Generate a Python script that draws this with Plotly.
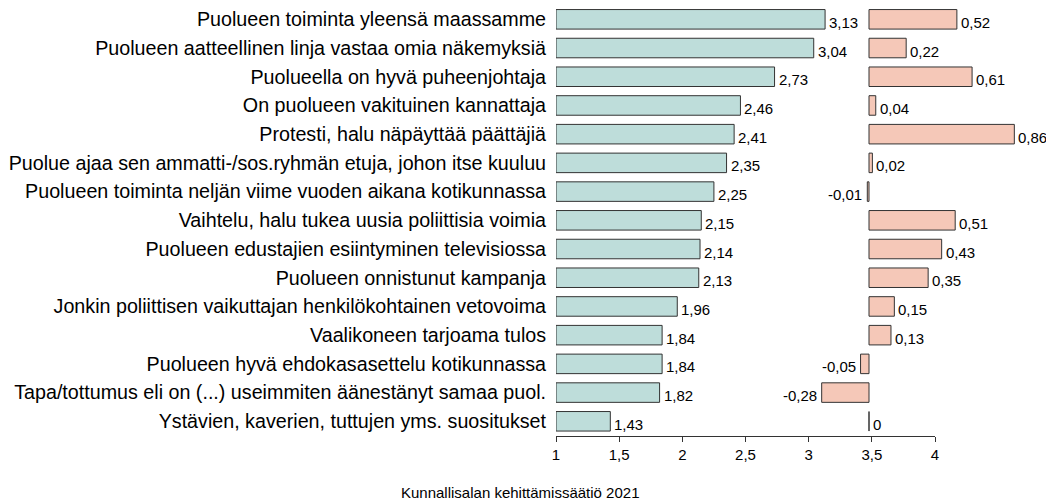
import plotly.graph_objects as go

categories = [
    "Puolueen toiminta yleensä maassamme",
    "Puolueen aatteellinen linja vastaa omia näkemyksiä",
    "Puolueella on hyvä puheenjohtaja",
    "On puolueen vakituinen kannattaja",
    "Protesti, halu näpäyttää päättäjiä",
    "Puolue ajaa sen ammatti-/sos.ryhmän etuja, johon itse kuuluu",
    "Puolueen toiminta neljän viime vuoden aikana kotikunnassa",
    "Vaihtelu, halu tukea uusia poliittisia voimia",
    "Puolueen edustajien esiintyminen televisiossa",
    "Puolueen onnistunut kampanja",
    "Jonkin poliittisen vaikuttajan henkilökohtainen vetovoima",
    "Vaalikoneen tarjoama tulos",
    "Puolueen hyvä ehdokasasettelu kotikunnassa",
    "Tapa/tottumus eli on (...) useimmiten äänestänyt samaa puol.",
    "Ystävien, kaverien, tuttujen yms. suositukset",
]
means = [3.13, 3.04, 2.73, 2.46, 2.41, 2.35, 2.25, 2.15, 2.14, 2.13, 1.96, 1.84, 1.84, 1.82, 1.43]
diffs = [0.52, 0.22, 0.61, 0.04, 0.86, 0.02, -0.01, 0.51, 0.43, 0.35, 0.15, 0.13, -0.05, -0.28, 0.0]
tick_vals = [1, 1.5, 2, 2.5, 3, 3.5, 4]
tick_text = ["1", "1,5", "2", "2,5", "3", "3,5", "4"]
footer = "Kunnallisalan kehittämissäätiö 2021"

FONT = "Liberation Sans, Arial, sans-serif"
# page body has an 8px default margin; figure is sized/positioned to compensate
OFF = 8
W, H = 1054 - OFF, 501 - OFF
L, R, T = 556 - OFF, 0, 0
B = H - (436 - OFF)
plot_w = W - L - R
plot_h = H - T - B
axis_end_px = 935 - OFF
zero_px = 869 - OFF
px_per_unit2 = 169.0

def fmt(v):
    return f"{v:.2f}".replace(".", ",")

fig = go.Figure()
fig.add_trace(go.Bar(
    x=[m - 1 for m in means], base=1, y=categories, orientation="h",
    marker=dict(color="#BEDDDA", line=dict(color="#333333", width=1)),
    width=0.68, xaxis="x", yaxis="y", hoverinfo="skip",
))
fig.add_trace(go.Bar(
    x=diffs, y=categories, orientation="h",
    marker=dict(color="#F5C8B8", line=dict(color="#333333", width=1)),
    width=0.68, xaxis="x2", yaxis="y", hoverinfo="skip",
))

annotations = []
for c, m in zip(categories, means):
    annotations.append(dict(x=m, y=c, xref="x", yref="y", text=fmt(m),
                            showarrow=False, xanchor="left", xshift=2, yshift=-3,
                            font=dict(family=FONT, size=15, color="#000")))
for c, d in zip(categories, diffs):
    txt = "0" if d == 0 else fmt(d)
    if d < 0:
        annotations.append(dict(x=d, y=c, xref="x2", yref="y", text=txt,
                                showarrow=False, xanchor="right", xshift=-3, yshift=-3,
                                font=dict(family=FONT, size=15, color="#000")))
    else:
        annotations.append(dict(x=d, y=c, xref="x2", yref="y", text=txt,
                                showarrow=False, xanchor="left", xshift=2, yshift=-3,
                                font=dict(family=FONT, size=15, color="#000")))
annotations.append(dict(x=(520 - OFF - L) / plot_w, y=(T + plot_h - (492 - OFF)) / plot_h,
                        xref="paper", yref="paper",
                        text=footer, showarrow=False, xanchor="center", yanchor="middle",
                        font=dict(family=FONT, size=15, color="#000")))

x2_left = (L - zero_px) / px_per_unit2
x2_right = (W - R - zero_px) / px_per_unit2

fig.update_layout(
    width=W, height=H,
    margin=dict(l=L, r=R, t=T, b=B, autoexpand=False),
    paper_bgcolor="white", plot_bgcolor="rgba(0,0,0,0)",
    showlegend=False, barmode="overlay",
    font=dict(family=FONT, size=15, color="#000"),
    xaxis=dict(domain=[0, (axis_end_px - L) / plot_w], range=[1, 4], anchor="y",
               tickvals=tick_vals, ticktext=tick_text, showgrid=False, zeroline=False,
               showline=True, linecolor="#333", linewidth=1, ticks="outside",
               ticklen=5, tickcolor="#333", tickfont=dict(size=15, family=FONT)),
    xaxis2=dict(domain=[0, 1], range=[x2_left, x2_right], anchor="y",
                visible=False, showgrid=False, zeroline=False),
    yaxis=dict(categoryorder="array", categoryarray=categories, range=[14.512, -0.394],
               showgrid=False, zeroline=False, showline=False, ticks="outside",
               ticklen=5, tickcolor="rgba(0,0,0,0)", tickfont=dict(size=19.7, family=FONT)),
    annotations=annotations,
)
fig.write_html("out.html")
